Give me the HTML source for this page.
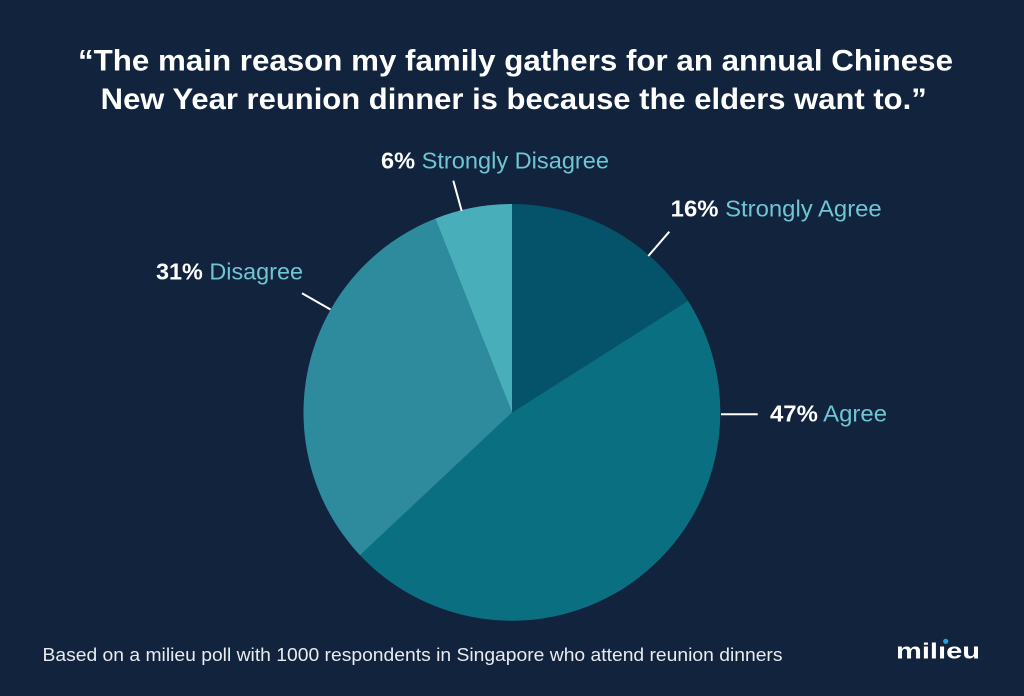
<!DOCTYPE html>
<html>
<head>
<meta charset="utf-8">
<style>
  html,body{margin:0;padding:0;background:#12233e;}
  svg{display:block;}
</style>
</head>
<body>
<svg width="1024" height="696" viewBox="0 0 1024 696" xmlns="http://www.w3.org/2000/svg">
  <rect width="1024" height="696" fill="#12233e"/>

  <!-- Title -->
  <g font-family="Liberation Sans, sans-serif" font-weight="bold" font-size="30" fill="#ffffff">
    <text x="78" y="70.7" textLength="875" lengthAdjust="spacingAndGlyphs">“The main reason my family gathers for an annual Chinese</text>
    <text x="100.7" y="109" textLength="826" lengthAdjust="spacingAndGlyphs">New Year reunion dinner is because the elders want to.”</text>
  </g>

  <!-- Pie -->
  <g>
    <path d="M512,412.5 L512,204 A208.5,208.5 0 0 1 688.0,300.8 Z" fill="#04536a"/>
    <path d="M512,412.5 L688.0,300.8 A208.5,208.5 0 0 1 360.0,555.2 Z" fill="#0b6f82"/>
    <path d="M512,412.5 L360.0,555.2 A208.5,208.5 0 0 1 435.3,218.6 Z" fill="#2e8b9e"/>
    <path d="M512,412.5 L435.3,218.6 A208.5,208.5 0 0 1 512,204 Z" fill="#47aeba"/>
  </g>

  <!-- Leader lines -->
  <g stroke="#ffffff" stroke-width="2" stroke-linecap="butt">
    <line x1="453.3" y1="180.7" x2="461.7" y2="211"/>
    <line x1="669.3" y1="231.7" x2="648.3" y2="256"/>
    <line x1="721" y1="414.3" x2="757.7" y2="414.3"/>
    <line x1="302" y1="293.3" x2="330.5" y2="309.5"/>
  </g>

  <!-- Labels -->
  <g font-family="Liberation Sans, sans-serif" font-size="23">
    <text x="381" y="168.3" textLength="228" lengthAdjust="spacingAndGlyphs"><tspan font-weight="bold" fill="#ffffff">6%</tspan><tspan fill="#6ec6d2"> Strongly Disagree</tspan></text>
    <text x="670.7" y="216.7" textLength="211" lengthAdjust="spacingAndGlyphs"><tspan font-weight="bold" fill="#ffffff">16%</tspan><tspan fill="#6ec6d2"> Strongly Agree</tspan></text>
    <text x="770" y="421.7" textLength="117" lengthAdjust="spacingAndGlyphs"><tspan font-weight="bold" fill="#ffffff">47%</tspan><tspan fill="#6ec6d2"> Agree</tspan></text>
    <text x="156" y="279.3" textLength="147" lengthAdjust="spacingAndGlyphs"><tspan font-weight="bold" fill="#ffffff">31%</tspan><tspan fill="#6ec6d2"> Disagree</tspan></text>
  </g>

  <!-- Footer -->
  <text x="42.5" y="661" font-family="Liberation Sans, sans-serif" font-size="18" fill="#e8ebef" textLength="740" lengthAdjust="spacingAndGlyphs">Based on a milieu poll with 1000 respondents in Singapore who attend reunion dinners</text>

  <!-- Logo -->
  <text x="896" y="658.3" font-family="Liberation Sans, sans-serif" font-weight="bold" font-size="22" fill="#ffffff" textLength="84" lengthAdjust="spacingAndGlyphs">milıeu</text>
  <circle cx="945.7" cy="641.3" r="2.6" fill="#1ea5e0"/>
</svg>
</body>
</html>
